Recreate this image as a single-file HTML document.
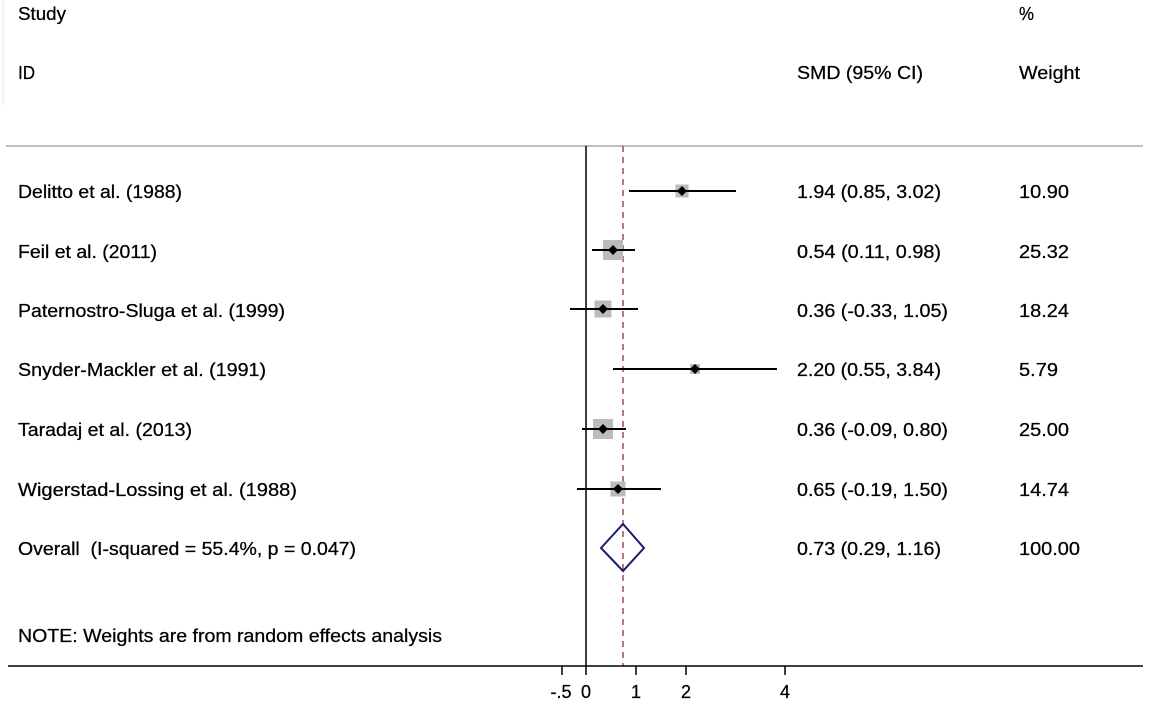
<!DOCTYPE html>
<html><head><meta charset="utf-8"><style>
html,body{margin:0;padding:0;background:#fff;}
svg{display:block;}
text{font-family:"Liberation Sans",Arial,sans-serif;font-size:18px;fill:#000;stroke:#000;stroke-width:0.25;}
</style></head><body>
<svg width="1149" height="703" viewBox="0 0 1149 703" xmlns="http://www.w3.org/2000/svg">
<line x1="3" y1="0" x2="3" y2="105" stroke="#e4e4e4" stroke-width="1"/>
<g lengthAdjust="spacingAndGlyphs">
<text x="18" y="20" textLength="48" lengthAdjust="spacingAndGlyphs">Study</text>
<text x="18" y="79" textLength="17" lengthAdjust="spacingAndGlyphs">ID</text>
<text x="1019" y="20" textLength="15" lengthAdjust="spacingAndGlyphs">%</text>
<text x="797" y="79" textLength="126" lengthAdjust="spacingAndGlyphs">SMD (95% CI)</text>
<text x="1019" y="79" textLength="61" lengthAdjust="spacingAndGlyphs">Weight</text>
</g>
<line x1="6" y1="146" x2="1143" y2="146" stroke="#aaa" stroke-width="1.5"/>
<line x1="586" y1="146" x2="586" y2="666" stroke="#000" stroke-width="1.5"/>
<line x1="623" y1="146" x2="623" y2="666" stroke="#a0485a" stroke-width="1.5" stroke-dasharray="6,5"/>
<g>
<text x="18" y="198" textLength="164" lengthAdjust="spacingAndGlyphs">Delitto et al. (1988)</text>
<text x="797" y="198" textLength="144" lengthAdjust="spacingAndGlyphs">1.94 (0.85, 3.02)</text><text x="1019" y="198" textLength="50" lengthAdjust="spacingAndGlyphs">10.90</text>
<rect x="675.5" y="184.5" width="13" height="13" fill="#bbb"/>
<line x1="629" y1="191" x2="736" y2="191" stroke="#000" stroke-width="2"/>
<path d="M682 186 L687 191 L682 196 L677 191Z" fill="#000"/>

<text x="18" y="258" textLength="139" lengthAdjust="spacingAndGlyphs">Feil et al. (2011)</text>
<text x="797" y="258" textLength="144" lengthAdjust="spacingAndGlyphs">0.54 (0.11, 0.98)</text><text x="1019" y="258" textLength="50" lengthAdjust="spacingAndGlyphs">25.32</text>
<rect x="603" y="240" width="20" height="20" fill="#bbb"/>
<line x1="592" y1="250" x2="635" y2="250" stroke="#000" stroke-width="2"/>
<path d="M613 245 L618 250 L613 255 L608 250Z" fill="#000"/>

<text x="18" y="317" textLength="267" lengthAdjust="spacingAndGlyphs">Paternostro-Sluga et al. (1999)</text>
<text x="797" y="317" textLength="151" lengthAdjust="spacingAndGlyphs">0.36 (-0.33, 1.05)</text><text x="1019" y="317" textLength="50" lengthAdjust="spacingAndGlyphs">18.24</text>
<rect x="594.5" y="300.5" width="17" height="17" fill="#bbb"/>
<line x1="570" y1="309" x2="638" y2="309" stroke="#000" stroke-width="2"/>
<path d="M603 304 L608 309 L603 314 L598 309Z" fill="#000"/>

<text x="18" y="376" textLength="248" lengthAdjust="spacingAndGlyphs">Snyder-Mackler et al. (1991)</text>
<text x="797" y="376" textLength="144" lengthAdjust="spacingAndGlyphs">2.20 (0.55, 3.84)</text><text x="1019" y="376" textLength="39" lengthAdjust="spacingAndGlyphs">5.79</text>
<rect x="690" y="364" width="10" height="10" fill="#bbb"/>
<line x1="613" y1="369" x2="777" y2="369" stroke="#000" stroke-width="2"/>
<path d="M695 364 L700 369 L695 374 L690 369Z" fill="#000"/>

<text x="18" y="436" textLength="174" lengthAdjust="spacingAndGlyphs">Taradaj et al. (2013)</text>
<text x="797" y="436" textLength="151" lengthAdjust="spacingAndGlyphs">0.36 (-0.09, 0.80)</text><text x="1019" y="436" textLength="50" lengthAdjust="spacingAndGlyphs">25.00</text>
<rect x="593" y="419" width="20" height="20" fill="#bbb"/>
<line x1="582" y1="429" x2="626" y2="429" stroke="#000" stroke-width="2"/>
<path d="M603 424 L608 429 L603 434 L598 429Z" fill="#000"/>

<text x="18" y="496" textLength="279" lengthAdjust="spacingAndGlyphs">Wigerstad-Lossing et al. (1988)</text>
<text x="797" y="496" textLength="151" lengthAdjust="spacingAndGlyphs">0.65 (-0.19, 1.50)</text><text x="1019" y="496" textLength="50" lengthAdjust="spacingAndGlyphs">14.74</text>
<rect x="610.5" y="481.5" width="15" height="15" fill="#bbb"/>
<line x1="577" y1="489" x2="661" y2="489" stroke="#000" stroke-width="2"/>
<path d="M618 484 L623 489 L618 494 L613 489Z" fill="#000"/>

<text x="18" y="555" textLength="338" lengthAdjust="spacingAndGlyphs" xml:space="preserve">Overall  (I-squared = 55.4%, p = 0.047)</text>
<text x="797" y="555" textLength="144" lengthAdjust="spacingAndGlyphs">0.73 (0.29, 1.16)</text><text x="1019" y="555" textLength="61" lengthAdjust="spacingAndGlyphs">100.00</text>
<path d="M601 548 L623 524 L644 548 L623 571Z" fill="none" stroke="#1c1c6e" stroke-width="2"/>

<text x="18" y="642" textLength="424" lengthAdjust="spacingAndGlyphs">NOTE: Weights are from random effects analysis</text>
</g>
<line x1="8" y1="666" x2="1143" y2="666" stroke="#000" stroke-width="1.5"/>
<g stroke="#000" stroke-width="1.5">
<line x1="562" y1="666" x2="562" y2="675"/>
<line x1="586" y1="666" x2="586" y2="675"/>
<line x1="636" y1="666" x2="636" y2="675"/>
<line x1="686" y1="666" x2="686" y2="675"/>
<line x1="785" y1="666" x2="785" y2="675"/>
</g>
<g text-anchor="middle">
<text x="561" y="698">-.5</text>
<text x="586" y="698">0</text>
<text x="636" y="698">1</text>
<text x="686" y="698">2</text>
<text x="785" y="698">4</text>
</g>
</svg>
</body></html>
